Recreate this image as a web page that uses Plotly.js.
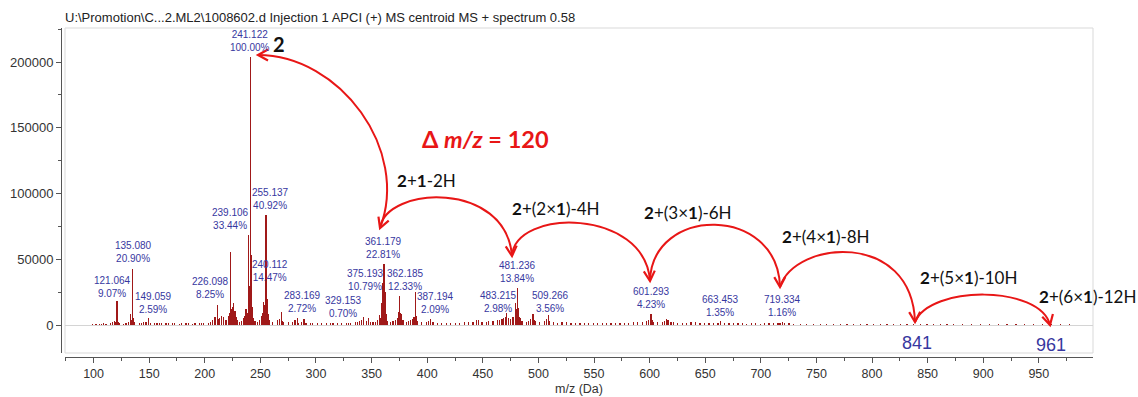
<!DOCTYPE html>
<html><head><meta charset="utf-8">
<script src="https://cdn.plot.ly/plotly-3.0.1.min.js"></script>
<style>html,body{margin:0;padding:0;background:#fff}</style>
</head><body><div id="chart" style="width:1138px;height:397px"></div>
<script>
// ---------------- DATA ----------------
const chartTitle = 'U:\\Promotion\\C...2.ML2\\1008602.d Injection 1 APCI (+) MS centroid MS + spectrum 0.58';
const xAxisTitle = 'm/z (Da)';
const yTickValues = [0, 50000, 100000, 150000, 200000];
const xTickValues = [100,150,200,250,300,350,400,450,500,550,600,650,700,750,800,850,900,950];

// centroid sticks: m/z and intensity
const peakMz = [98.9,102.1,105.1,107.0,109.1,111.1,115.1,117.1,119.1,120.1,121.064,122.07,123.1,127.1,129.1,131.1,133.1,134.1,135.080,136.08,137.1,141.1,143.1,145.1,147.1,149.059,151.1,155.1,157.1,159.1,161.1,165.1,167.1,171.1,173.1,177.1,179.1,183.1,185.1,189.1,191.1,195.1,197.1,199.1,203.1,205.1,207.1,209.1,211.1,212.1,213.1,215.1,217.1,219.1,221.1,222.1,223.1,224.1,225.1,226.098,227.1,228.1,229.1,231.1,233.1,235.1,236.1,237.1,238.1,239.106,240.112,241.122,242.13,243.1,244.1,245.1,247.1,249.1,251.1,252.1,253.1,254.1,255.137,256.14,257.14,258.1,261.1,265.1,267.1,269.15,270.1,271.1,275.1,279.1,281.1,283.169,284.2,287.1,289.2,291.1,295.1,297.2,301.2,305.2,309.2,313.2,315.2,319.2,323.2,327.2,329.153,331.2,335.2,337.2,339.2,341.2,342.6,345.2,347.1,349.2,351.2,353.2,355.2,357.2,358.2,359.17,360.17,361.179,362.185,363.19,364.2,367.2,369.2,371.2,373.2,374.2,375.193,376.2,377.2,378.2,381.2,383.2,385.2,387.194,388.2,389.21,390.2,391.2,395.2,399.2,401.2,403.2,405.2,409.2,413.2,417.2,421.2,425.2,429.2,433.2,437.2,441.2,444.2,446.2,449.2,453.2,455.2,459.2,463.2,465.2,467.2,468.4,470.2,471.5,473.2,475.2,477.2,479.2,480.2,481.236,482.24,483.215,484.2,485.2,489.2,491.2,493.2,495.2,496.2,497.2,501.2,505.2,507.3,509.266,510.3,513.3,517.3,521.3,525.3,529.3,533.3,537.3,541.3,545.3,549.3,553.3,557.3,561.3,565.3,569.3,573.3,577.3,581.3,585.3,589.3,593.3,597.3,599.3,601.293,602.3,603.3,607.3,611.3,613.3,615.4,616.6,619.3,621.3,625.3,629.3,633.3,637.3,641.3,645.3,649.3,653.3,657.3,661.4,663.453,667.4,671.4,675.4,679.4,683.4,687.4,691.4,695.4,699.4,703.4,707.4,711.4,715.4,717.3,719.334,721.3,725.4,729.4,735.4,741.4,747.4,753.4,759.4,765.4,771.4,777.4,783.4,789.4,795.4,801.4,807.4,813.4,819.4,825.4,831.4,837.4,843.4,849.4,855.4,861.4,867.4,873.4,881.4,889.4,897.4,905.4,913.4,921.4,929.4,937.4,945.4,953.4,961.4,969.4,977.4];
const peakIntensity = [700,900,1100,800,1300,900,1600,2200,3200,2400,18500,2600,1300,1100,1800,2500,8400,4000,42600,5200,2000,1500,1700,2300,2600,5300,1800,1500,1400,1700,1300,1900,1500,1200,1500,1100,1300,1200,1400,1000,1200,1500,1700,1300,1600,2200,3500,6000,15200,4500,5000,7000,6000,3500,6500,9000,55700,12000,13500,16830,11000,6000,4000,2500,3000,5000,6500,12000,9000,68200,29520,204000,53000,14000,5000,3000,2500,4000,7000,9000,17500,15000,83480,20000,8500,3500,2000,3500,4500,9900,3000,2500,2000,2500,3500,5550,1800,2200,4600,1800,1700,1900,1500,1600,1400,1500,1800,1300,1500,1700,1430,1600,2000,2500,3000,4000,6300,3000,5300,2500,2000,2500,3500,7600,5000,16700,31900,46530,25150,8000,3000,2500,3000,3500,5500,10000,22010,9000,8000,4000,2500,3000,4000,4260,6000,25300,7000,3000,2000,2500,3000,4500,2200,1500,1800,1500,1700,1500,1800,2000,2200,2500,3800,3500,2200,2500,3000,2800,3500,4000,4500,5300,6000,9000,5000,4500,6000,16700,12000,28230,13000,6080,5000,3000,2500,3000,4500,8400,4000,3000,2500,3000,4500,7260,3000,2000,1800,2000,2200,1800,1500,1700,1600,1400,1500,1700,1500,1600,1400,1800,1500,1700,1900,2200,2600,2400,3000,4000,8630,4000,2500,2200,2500,3000,4600,3500,2500,2000,1800,1600,1900,2200,2000,1700,1500,1400,1600,1900,2750,1500,1300,1200,1400,1300,1100,1200,1300,1100,1200,1300,1400,1500,1800,2370,1400,1200,1000,1100,900,1000,800,900,800,700,800,700,600,700,600,700,600,500,600,500,600,700,600,500,600,500,400,500,400,500,400,400,500,400,400,500,400,500,400,400];

// peak labels (m/z and relative abundance)
const labelMz  = ['241.122','121.064','135.080','149.059','226.098','239.106','240.112','255.137','283.169','329.153','361.179','375.193','362.185','387.194','481.236','483.215','509.266','601.293','663.453','719.334'];
const labelPct = ['100.00%','9.07%','20.90%','2.59%','8.25%','33.44%','14.47%','40.92%','2.72%','0.70%','22.81%','10.79%','12.33%','2.09%','13.84%','2.98%','3.56%','4.23%','1.35%','1.16%'];

// oligomer series annotations
const seriesLabels = ['<b>2</b>+<b>1</b>-2H','<b>2</b>+(2×<b>1</b>)-4H','<b>2</b>+(3×<b>1</b>)-6H','<b>2</b>+(4×<b>1</b>)-8H','<b>2</b>+(5×<b>1</b>)-10H','<b>2</b>+(6×<b>1</b>)-12H'];
const extrapolatedMz = ['841','961'];
const deltaText = '<b>Δ <i>m/z</i> = 120</b>';
const compoundLabel = '<b>2</b>';

// ---------------- LAYOUT GEOMETRY (pixels) ----------------
const W = 1138, H = 397;
const M = {l: 61, r: 45, t: 28, b: 40};
const PW = W - M.l - M.r, PH = H - M.t - M.b;
const frameL = 65, frameR = 1093, frameT = 28, frameB = 353;
const xDom = [(frameL - M.l) / PW, 1];
const yDom = [(H - M.b - frameB) / PH, 1];
const xRange = [74.3, 998.7];
const yRange = [-21293, 225856];
function dx(px) { return xRange[0] + (px - frameL) / (frameR - frameL) * (xRange[1] - xRange[0]); }
function dy(py) { return yRange[0] + (frameB - py) / (frameB - frameT) * (yRange[1] - yRange[0]); }

// label centres in pixels
const labelPos = [[250,41],[112,287],[133,252],[153,303],[210,288],[230,219],[270,271],[270,199],[302,302],[343,307],[383,248],[365,280],[405,280],[435,303],[517,272],[498,302],[550,302],[651,298],[720,306],[782,306]];
const seriesPos = [[395,180],[510,208],[642,212],[780,236],[918,277],[1037,296]];

// arcs in pixels: [P0, C1, C2, P1]
const arcs = [
  [[258,55],[340,55],[410,150],[380,228]],
  [[380,228],[386,186],[506,180],[512,256]],
  [[512,256],[515,208],[645,208],[650,281]],
  [[650,281],[652,205],[778,205],[780,287]],
  [[780,287],[795,240],[912,230],[915,322]],
  [[915,322],[930,285],[1040,285],[1050,325]]
];

const shapes = [];
const RED = 'rgb(232,22,22)';
function P(p) { return dx(p[0]) + ',' + dy(p[1]); }
function arrowHead(tip, from) {
  const vx = tip[0] - from[0], vy = tip[1] - from[1];
  const n = Math.hypot(vx, vy), ux = vx / n, uy = vy / n;
  const L = 10, Wd = 5.5;
  const a = [tip[0] - L*ux + Wd*uy, tip[1] - L*uy - Wd*ux];
  const b = [tip[0] - L*ux - Wd*uy, tip[1] - L*uy + Wd*ux];
  shapes.push({type:'path', xref:'x', yref:'y', path:'M' + P(a) + ' L' + P(tip) + ' L' + P(b),
    line:{color:RED, width:2.2}, layer:'above'});
}
arcs.forEach((c, i) => {
  shapes.push({type:'path', xref:'x', yref:'y', path:'M' + P(c[0]) + ' C' + P(c[1]) + ' ' + P(c[2]) + ' ' + P(c[3]),
    line:{color:RED, width:2}, layer:'above'});
  if (i === 0) arrowHead(c[0], c[1]);
  arrowHead(c[3], c[2]);
});
// light frame around plot
shapes.push({type:'rect', xref:'x domain', yref:'y domain', x0:0, x1:1, y0:0, y1:1,
  line:{color:'#d9d9d9', width:1}, layer:'below'});

const annotations = [];
const BLUE = 'rgb(55,55,160)';
labelMz.forEach((t, i) => {
  annotations.push({x: dx(labelPos[i][0]), y: dy(labelPos[i][1]), xref:'x', yref:'y', showarrow:false,
    text: t + '<br>' + labelPct[i], xanchor:'center', yanchor:'middle',
    font:{family:'Liberation Sans, Arial, sans-serif', size:10, color:BLUE}});
});
seriesLabels.forEach((t, i) => {
  annotations.push({x: dx(seriesPos[i][0]), y: dy(seriesPos[i][1]), xref:'x', yref:'y', showarrow:false,
    text: t, xanchor:'left', yanchor:'middle',
    font:{family:'Lato, Carlito, sans-serif', size:17, color:'#111'}});
});
annotations.push({x: dx(485), y: dy(139), xref:'x', yref:'y', showarrow:false, text: deltaText,
  xanchor:'center', yanchor:'middle', font:{family:'Lato, sans-serif', size:23.5, color:RED}});
annotations.push({x: dx(279), y: dy(44), xref:'x', yref:'y', showarrow:false, text: compoundLabel,
  xanchor:'center', yanchor:'middle', font:{family:'Lato, sans-serif', size:20, color:'#111'}});
annotations.push({x: dx(917), y: dy(343), xref:'x', yref:'y', showarrow:false, text: extrapolatedMz[0],
  xanchor:'center', yanchor:'middle', font:{family:'Liberation Sans, sans-serif', size:18, color:BLUE}});
annotations.push({x: dx(1051), y: dy(345), xref:'x', yref:'y', showarrow:false, text: extrapolatedMz[1],
  xanchor:'center', yanchor:'middle', font:{family:'Liberation Sans, sans-serif', size:18, color:BLUE}});

const trace = {type:'bar', x: peakMz, y: peakIntensity, width: 1.1,
  marker:{color:'rgb(160,25,25)', line:{width:0}}, hoverinfo:'skip', showlegend:false};

const tickFont = {family:'Liberation Sans, Arial, sans-serif', size:12.5, color:'#333'};
const layout = {
  width: W, height: H, margin: M, paper_bgcolor:'#fff', plot_bgcolor:'#fff', showlegend:false,
  title: {text: chartTitle, xref:'container', yref:'container', x: 65 / W, xanchor:'left',
    y: 1 - 17 / H, yanchor:'middle', font:{family:'Liberation Sans, Arial, sans-serif', size:13, color:'#222'}},
  xaxis: {domain: xDom, range: xRange, anchor:'free', position:0, tickvals: xTickValues,
    ticks:'outside', ticklen:5, tickcolor:'#555', showline:true, linecolor:'#555', linewidth:1,
    showgrid:false, zeroline:false, tickfont: tickFont,
    minor:{dtick:25, tick0:0, ticks:'outside', ticklen:3, tickcolor:'#555', showgrid:false},
    title:{text:xAxisTitle, font:tickFont, standoff:4}},
  yaxis: {domain: yDom, range: yRange, anchor:'free', position:0, tickvals: yTickValues, tickformat:'d',
    ticks:'outside', ticklen:5, tickcolor:'#555', showline:true, linecolor:'#555', linewidth:1,
    showgrid:false, zeroline:true, zerolinecolor:'#d4d4d4', zerolinewidth:1,
    tickfont:{family:'Liberation Sans, Arial, sans-serif', size:13, color:'#333'},
    minor:{dtick:25000, tick0:0, ticks:'outside', ticklen:3, tickcolor:'#555', showgrid:false}},
  shapes: shapes, annotations: annotations, bargap:0
};
Plotly.newPlot('chart', [trace], layout, {displayModeBar:false, staticPlot:true});
</script></body></html>
